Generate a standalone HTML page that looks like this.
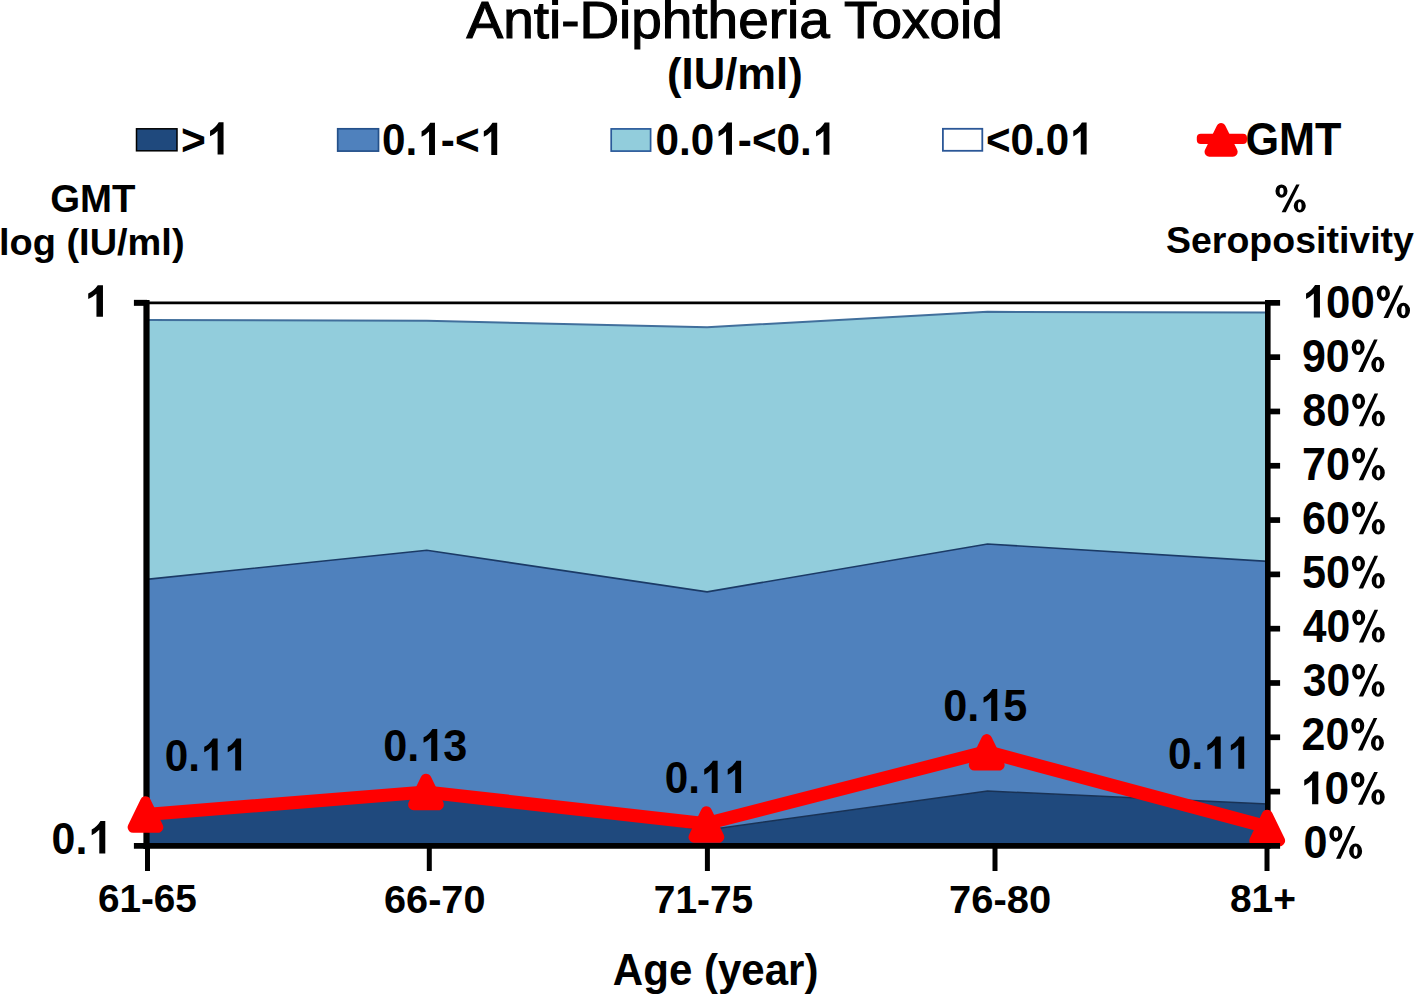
<!DOCTYPE html>
<html><head><meta charset="utf-8"><title>Anti-Diphtheria Toxoid</title>
<style>html,body{margin:0;padding:0;background:#fff;}svg{display:block;}</style>
</head><body>
<svg width="1418" height="996" viewBox="0 0 1418 996" font-family="'Liberation Sans', sans-serif" fill="#000">
<rect width="1418" height="996" fill="#FFFFFF"/>
<polygon points="146.5,302.9 426.8,302.9 707.1,302.9 987.5,302.9 1267.8,302.9 1267.8,312.6 987.5,311.8 707.1,327.2 426.8,320.8 146.5,320.1" fill="#FFFFFF"/>
<polygon points="146.5,320.1 426.8,320.8 707.1,327.2 987.5,311.8 1267.8,312.6 1267.8,561.4 987.5,544.0 707.1,591.9 426.8,550.3 146.5,579.4" fill="#92CDDC"/>
<polygon points="146.5,579.4 426.8,550.3 707.1,591.9 987.5,544.0 1267.8,561.4 1267.8,804.0 987.5,791.0 707.1,830.0 426.8,792.0 146.5,814.0" fill="#4F81BD"/>
<polygon points="146.5,814.0 426.8,792.0 707.1,830.0 987.5,791.0 1267.8,804.0 1267.8,845.9 987.5,845.9 707.1,845.9 426.8,845.9 146.5,845.9" fill="#1F497D"/>
<polyline points="146.5,320.1 426.8,320.8 707.1,327.2 987.5,311.8 1267.8,312.6" fill="none" stroke="#416F9C" stroke-width="2"/>
<polyline points="146.5,579.4 426.8,550.3 707.1,591.9 987.5,544.0 1267.8,561.4" fill="none" stroke="#1B3A66" stroke-width="1.6"/>
<polyline points="146.5,814.0 426.8,792.0 707.1,830.0 987.5,791.0 1267.8,804.0" fill="none" stroke="#193255" stroke-width="1.5"/>
<line x1="146.5" y1="302.8" x2="1267.8" y2="302.8" stroke="#000" stroke-width="2.8"/>
<line x1="146.5" y1="300" x2="146.5" y2="849" stroke="#000" stroke-width="6.2"/>
<line x1="1267.8" y1="300" x2="1267.8" y2="849" stroke="#000" stroke-width="5.6"/>
<line x1="133.9" y1="302.85" x2="147" y2="302.85" stroke="#000" stroke-width="6"/>
<line x1="1267" y1="302.85" x2="1280.1" y2="302.85" stroke="#000" stroke-width="5.7"/>
<line x1="1267" y1="357.16" x2="1280.1" y2="357.16" stroke="#000" stroke-width="5.7"/>
<line x1="1267" y1="411.46" x2="1280.1" y2="411.46" stroke="#000" stroke-width="5.7"/>
<line x1="1267" y1="465.76" x2="1280.1" y2="465.76" stroke="#000" stroke-width="5.7"/>
<line x1="1267" y1="520.07" x2="1280.1" y2="520.07" stroke="#000" stroke-width="5.7"/>
<line x1="1267" y1="574.38" x2="1280.1" y2="574.38" stroke="#000" stroke-width="5.7"/>
<line x1="1267" y1="628.68" x2="1280.1" y2="628.68" stroke="#000" stroke-width="5.7"/>
<line x1="1267" y1="682.98" x2="1280.1" y2="682.98" stroke="#000" stroke-width="5.7"/>
<line x1="1267" y1="737.29" x2="1280.1" y2="737.29" stroke="#000" stroke-width="5.7"/>
<line x1="1267" y1="791.60" x2="1280.1" y2="791.60" stroke="#000" stroke-width="5.7"/>
<line x1="147.5" y1="846" x2="147.5" y2="871" stroke="#000" stroke-width="5"/>
<line x1="429.3" y1="846" x2="429.3" y2="871" stroke="#000" stroke-width="5"/>
<line x1="707.4" y1="846" x2="707.4" y2="871" stroke="#000" stroke-width="5"/>
<line x1="995.0" y1="846" x2="995.0" y2="871" stroke="#000" stroke-width="5"/>
<line x1="1267.0" y1="846" x2="1267.0" y2="871" stroke="#000" stroke-width="5"/>
<polyline points="146.0,814.5 426.0,792.0 706.4,823.7 986.7,751.7 1268.0,827.2" fill="none" stroke="#FF0000" stroke-width="13.2" stroke-linejoin="round"/>
<polygon points="145.50,801.80 157.90,827.30 133.10,827.30" fill="#FF0000" stroke="#FF0000" stroke-width="11" stroke-linejoin="round"/>
<polygon points="426.00,779.20 438.40,804.70 413.60,804.70" fill="#FF0000" stroke="#FF0000" stroke-width="11" stroke-linejoin="round"/>
<polygon points="706.40,811.70 718.80,837.20 694.00,837.20" fill="#FF0000" stroke="#FF0000" stroke-width="11" stroke-linejoin="round"/>
<polygon points="986.70,739.60 999.10,765.10 974.30,765.10" fill="#FF0000" stroke="#FF0000" stroke-width="11" stroke-linejoin="round"/>
<polygon points="1267.20,815.20 1279.60,840.70 1254.80,840.70" fill="#FF0000" stroke="#FF0000" stroke-width="11" stroke-linejoin="round"/>
<line x1="133.9" y1="845.9" x2="1280.1" y2="845.9" stroke="#000" stroke-width="5.8"/>
<rect x="136.5" y="128.8" width="40.5" height="22" fill="#1F497D" stroke="#000" stroke-width="1.5"/>
<rect x="337.7" y="128.8" width="40.8" height="22.3" fill="#4F81BD" stroke="#24508A" stroke-width="1.7"/>
<rect x="611.2" y="128.9" width="39.4" height="22.2" fill="#92CDDC" stroke="#2A5A9A" stroke-width="1.7"/>
<rect x="942.9" y="128.8" width="39.4" height="22.0" fill="#FFFFFF" stroke="#2B5797" stroke-width="1.8"/>
<rect x="1196.8" y="133.8" width="50.2" height="10.1" rx="4" fill="#FF0000"/>
<polygon points="1221.10,127.75 1232.90,151.95 1209.30,151.95" fill="#FF0000" stroke="#FF0000" stroke-width="9.5" stroke-linejoin="round"/>
<g transform="translate(466.50,38.40) scale(1.0604,1)"><text x="0" y="0" font-size="51.80" font-weight="400" stroke="#000" stroke-width="1.1">Anti-Diphtheria Toxoid</text></g>
<g transform="translate(667.05,89.40) scale(0.9756,1)"><text x="0" y="0" font-size="44.70" font-weight="700">(IU/ml)</text></g>
<g transform="translate(180.91,154.50) scale(0.9465,1)"><text x="0.00" y="0" font-size="45.00" font-weight="700">&gt;</text><path transform="translate(26.28,0) scale(45.000,-45.000)" d="M0.417,0 L0.277,0 L0.277,0.525 Q0.2,0.45 0.100,0.405 L0.100,0.530 Q0.22,0.585 0.305,0.716 L0.417,0.716 Z"/></g>
<g transform="translate(382.12,155.00) scale(0.9388,1)"><text x="0.00" y="0" font-size="45.00" font-weight="700">0.</text><path transform="translate(37.53,0) scale(45.000,-45.000)" d="M0.417,0 L0.277,0 L0.277,0.525 Q0.2,0.45 0.100,0.405 L0.100,0.530 Q0.22,0.585 0.305,0.716 L0.417,0.716 Z"/><text x="62.56" y="0" font-size="45.00" font-weight="700">-&lt;</text><path transform="translate(103.82,0) scale(45.000,-45.000)" d="M0.417,0 L0.277,0 L0.277,0.525 Q0.2,0.45 0.100,0.405 L0.100,0.530 Q0.22,0.585 0.305,0.716 L0.417,0.716 Z"/></g>
<g transform="translate(655.62,154.80) scale(0.9388,1)"><text x="0.00" y="0" font-size="45.00" font-weight="700">0.0</text><path transform="translate(62.56,0) scale(45.000,-45.000)" d="M0.417,0 L0.277,0 L0.277,0.525 Q0.2,0.45 0.100,0.405 L0.100,0.530 Q0.22,0.585 0.305,0.716 L0.417,0.716 Z"/><text x="87.58" y="0" font-size="45.00" font-weight="700">-&lt;0.</text><path transform="translate(166.38,0) scale(45.000,-45.000)" d="M0.417,0 L0.277,0 L0.277,0.525 Q0.2,0.45 0.100,0.405 L0.100,0.530 Q0.22,0.585 0.305,0.716 L0.417,0.716 Z"/></g>
<g transform="translate(986.03,154.60) scale(0.9349,1)"><text x="0.00" y="0" font-size="45.00" font-weight="700">&lt;0.0</text><path transform="translate(88.84,0) scale(45.000,-45.000)" d="M0.417,0 L0.277,0 L0.277,0.525 Q0.2,0.45 0.100,0.405 L0.100,0.530 Q0.22,0.585 0.305,0.716 L0.417,0.716 Z"/></g>
<g transform="translate(1245.40,155.00) scale(0.9495,1)"><text x="0" y="0" font-size="45.50" font-weight="700">GMT</text></g>
<g transform="translate(50.20,212.00) scale(1.0024,1)"><text x="0" y="0" font-size="38.30" font-weight="700">GMT</text></g>
<g transform="translate(-0.98,254.70) scale(1.0261,1)"><text x="0" y="0" font-size="37.00" font-weight="700">log (IU/ml)</text></g>
<g transform="translate(1273.65,211.90) scale(1.0241,1)"><path transform="translate(0.00,0) scale(39.000,-39.000)" fill-rule="evenodd" d="M0.0450,0.5345 A0.1510,0.1705 0 1,0 0.3470,0.5345 A0.1510,0.1705 0 1,0 0.0450,0.5345 Z M0.1480,0.5304 A0.0510,0.0882 0 1,0 0.2500,0.5304 A0.0510,0.0882 0 1,0 0.1480,0.5304 Z M0.5030,0.1553 A0.1510,0.1703 0 1,0 0.8050,0.1553 A0.1510,0.1703 0 1,0 0.5030,0.1553 Z M0.6070,0.1531 A0.0465,0.1033 0 1,0 0.7000,0.1531 A0.0465,0.1033 0 1,0 0.6070,0.1531 Z M0.566,0.705 L0.650,0.705 L0.304,-0.012 L0.200,-0.012 Z"/></g>
<g transform="translate(1166.01,253.40) scale(0.9948,1)"><text x="0" y="0" font-size="37.70" font-weight="700">Seropositivity</text></g>
<g transform="translate(83.57,316.80) scale(1.0571,1)"><path transform="translate(0.00,0) scale(44.000,-44.000)" d="M0.417,0 L0.277,0 L0.277,0.525 Q0.2,0.45 0.100,0.405 L0.100,0.530 Q0.22,0.585 0.305,0.716 L0.417,0.716 Z"/></g>
<g transform="translate(51.61,853.50) scale(0.9473,1)"><text x="0.00" y="0" font-size="45.30" font-weight="700">0.</text><path transform="translate(37.78,0) scale(45.300,-45.300)" d="M0.417,0 L0.277,0 L0.277,0.525 Q0.2,0.45 0.100,0.405 L0.100,0.530 Q0.22,0.585 0.305,0.716 L0.417,0.716 Z"/></g>
<g transform="translate(1301.69,317.50) scale(0.9626,1)"><path transform="translate(0.00,0) scale(45.500,-45.500)" d="M0.417,0 L0.277,0 L0.277,0.525 Q0.2,0.45 0.100,0.405 L0.100,0.530 Q0.22,0.585 0.305,0.716 L0.417,0.716 Z"/><text x="25.30" y="0" font-size="45.50" font-weight="700">00</text><path transform="translate(75.91,0) scale(45.500,-45.500)" fill-rule="evenodd" d="M0.0450,0.5345 A0.1510,0.1705 0 1,0 0.3470,0.5345 A0.1510,0.1705 0 1,0 0.0450,0.5345 Z M0.1480,0.5304 A0.0510,0.0882 0 1,0 0.2500,0.5304 A0.0510,0.0882 0 1,0 0.1480,0.5304 Z M0.5030,0.1553 A0.1510,0.1703 0 1,0 0.8050,0.1553 A0.1510,0.1703 0 1,0 0.5030,0.1553 Z M0.6070,0.1531 A0.0465,0.1033 0 1,0 0.7000,0.1531 A0.0465,0.1033 0 1,0 0.6070,0.1531 Z M0.566,0.705 L0.650,0.705 L0.304,-0.012 L0.200,-0.012 Z"/></g>
<g transform="translate(1301.91,371.57) scale(0.9447,1)"><text x="0.00" y="0" font-size="45.50" font-weight="700">90</text><path transform="translate(50.61,0) scale(45.500,-45.500)" fill-rule="evenodd" d="M0.0450,0.5345 A0.1510,0.1705 0 1,0 0.3470,0.5345 A0.1510,0.1705 0 1,0 0.0450,0.5345 Z M0.1480,0.5304 A0.0510,0.0882 0 1,0 0.2500,0.5304 A0.0510,0.0882 0 1,0 0.1480,0.5304 Z M0.5030,0.1553 A0.1510,0.1703 0 1,0 0.8050,0.1553 A0.1510,0.1703 0 1,0 0.5030,0.1553 Z M0.6070,0.1531 A0.0465,0.1033 0 1,0 0.7000,0.1531 A0.0465,0.1033 0 1,0 0.6070,0.1531 Z M0.566,0.705 L0.650,0.705 L0.304,-0.012 L0.200,-0.012 Z"/></g>
<g transform="translate(1302.35,425.64) scale(0.9453,1)"><text x="0.00" y="0" font-size="45.50" font-weight="700">80</text><path transform="translate(50.61,0) scale(45.500,-45.500)" fill-rule="evenodd" d="M0.0450,0.5345 A0.1510,0.1705 0 1,0 0.3470,0.5345 A0.1510,0.1705 0 1,0 0.0450,0.5345 Z M0.1480,0.5304 A0.0510,0.0882 0 1,0 0.2500,0.5304 A0.0510,0.0882 0 1,0 0.1480,0.5304 Z M0.5030,0.1553 A0.1510,0.1703 0 1,0 0.8050,0.1553 A0.1510,0.1703 0 1,0 0.5030,0.1553 Z M0.6070,0.1531 A0.0465,0.1033 0 1,0 0.7000,0.1531 A0.0465,0.1033 0 1,0 0.6070,0.1531 Z M0.566,0.705 L0.650,0.705 L0.304,-0.012 L0.200,-0.012 Z"/></g>
<g transform="translate(1302.10,479.71) scale(0.9482,1)"><text x="0.00" y="0" font-size="45.50" font-weight="700">70</text><path transform="translate(50.61,0) scale(45.500,-45.500)" fill-rule="evenodd" d="M0.0450,0.5345 A0.1510,0.1705 0 1,0 0.3470,0.5345 A0.1510,0.1705 0 1,0 0.0450,0.5345 Z M0.1480,0.5304 A0.0510,0.0882 0 1,0 0.2500,0.5304 A0.0510,0.0882 0 1,0 0.1480,0.5304 Z M0.5030,0.1553 A0.1510,0.1703 0 1,0 0.8050,0.1553 A0.1510,0.1703 0 1,0 0.5030,0.1553 Z M0.6070,0.1531 A0.0465,0.1033 0 1,0 0.7000,0.1531 A0.0465,0.1033 0 1,0 0.6070,0.1531 Z M0.566,0.705 L0.650,0.705 L0.304,-0.012 L0.200,-0.012 Z"/></g>
<g transform="translate(1302.10,533.78) scale(0.9482,1)"><text x="0.00" y="0" font-size="45.50" font-weight="700">60</text><path transform="translate(50.61,0) scale(45.500,-45.500)" fill-rule="evenodd" d="M0.0450,0.5345 A0.1510,0.1705 0 1,0 0.3470,0.5345 A0.1510,0.1705 0 1,0 0.0450,0.5345 Z M0.1480,0.5304 A0.0510,0.0882 0 1,0 0.2500,0.5304 A0.0510,0.0882 0 1,0 0.1480,0.5304 Z M0.5030,0.1553 A0.1510,0.1703 0 1,0 0.8050,0.1553 A0.1510,0.1703 0 1,0 0.5030,0.1553 Z M0.6070,0.1531 A0.0465,0.1033 0 1,0 0.7000,0.1531 A0.0465,0.1033 0 1,0 0.6070,0.1531 Z M0.566,0.705 L0.650,0.705 L0.304,-0.012 L0.200,-0.012 Z"/></g>
<g transform="translate(1301.90,587.85) scale(0.9494,1)"><text x="0.00" y="0" font-size="45.50" font-weight="700">50</text><path transform="translate(50.61,0) scale(45.500,-45.500)" fill-rule="evenodd" d="M0.0450,0.5345 A0.1510,0.1705 0 1,0 0.3470,0.5345 A0.1510,0.1705 0 1,0 0.0450,0.5345 Z M0.1480,0.5304 A0.0510,0.0882 0 1,0 0.2500,0.5304 A0.0510,0.0882 0 1,0 0.1480,0.5304 Z M0.5030,0.1553 A0.1510,0.1703 0 1,0 0.8050,0.1553 A0.1510,0.1703 0 1,0 0.5030,0.1553 Z M0.6070,0.1531 A0.0465,0.1033 0 1,0 0.7000,0.1531 A0.0465,0.1033 0 1,0 0.6070,0.1531 Z M0.566,0.705 L0.650,0.705 L0.304,-0.012 L0.200,-0.012 Z"/></g>
<g transform="translate(1302.86,641.92) scale(0.9384,1)"><text x="0.00" y="0" font-size="45.50" font-weight="700">40</text><path transform="translate(50.61,0) scale(45.500,-45.500)" fill-rule="evenodd" d="M0.0450,0.5345 A0.1510,0.1705 0 1,0 0.3470,0.5345 A0.1510,0.1705 0 1,0 0.0450,0.5345 Z M0.1480,0.5304 A0.0510,0.0882 0 1,0 0.2500,0.5304 A0.0510,0.0882 0 1,0 0.1480,0.5304 Z M0.5030,0.1553 A0.1510,0.1703 0 1,0 0.8050,0.1553 A0.1510,0.1703 0 1,0 0.5030,0.1553 Z M0.6070,0.1531 A0.0465,0.1033 0 1,0 0.7000,0.1531 A0.0465,0.1033 0 1,0 0.6070,0.1531 Z M0.566,0.705 L0.650,0.705 L0.304,-0.012 L0.200,-0.012 Z"/></g>
<g transform="translate(1302.76,695.99) scale(0.9372,1)"><text x="0.00" y="0" font-size="45.50" font-weight="700">30</text><path transform="translate(50.61,0) scale(45.500,-45.500)" fill-rule="evenodd" d="M0.0450,0.5345 A0.1510,0.1705 0 1,0 0.3470,0.5345 A0.1510,0.1705 0 1,0 0.0450,0.5345 Z M0.1480,0.5304 A0.0510,0.0882 0 1,0 0.2500,0.5304 A0.0510,0.0882 0 1,0 0.1480,0.5304 Z M0.5030,0.1553 A0.1510,0.1703 0 1,0 0.8050,0.1553 A0.1510,0.1703 0 1,0 0.5030,0.1553 Z M0.6070,0.1531 A0.0465,0.1033 0 1,0 0.7000,0.1531 A0.0465,0.1033 0 1,0 0.6070,0.1531 Z M0.566,0.705 L0.650,0.705 L0.304,-0.012 L0.200,-0.012 Z"/></g>
<g transform="translate(1301.61,750.06) scale(0.9435,1)"><text x="0.00" y="0" font-size="45.50" font-weight="700">20</text><path transform="translate(50.61,0) scale(45.500,-45.500)" fill-rule="evenodd" d="M0.0450,0.5345 A0.1510,0.1705 0 1,0 0.3470,0.5345 A0.1510,0.1705 0 1,0 0.0450,0.5345 Z M0.1480,0.5304 A0.0510,0.0882 0 1,0 0.2500,0.5304 A0.0510,0.0882 0 1,0 0.1480,0.5304 Z M0.5030,0.1553 A0.1510,0.1703 0 1,0 0.8050,0.1553 A0.1510,0.1703 0 1,0 0.5030,0.1553 Z M0.6070,0.1531 A0.0465,0.1033 0 1,0 0.7000,0.1531 A0.0465,0.1033 0 1,0 0.6070,0.1531 Z M0.566,0.705 L0.650,0.705 L0.304,-0.012 L0.200,-0.012 Z"/></g>
<g transform="translate(1299.83,804.13) scale(0.9732,1)"><path transform="translate(0.00,0) scale(45.500,-45.500)" d="M0.417,0 L0.277,0 L0.277,0.525 Q0.2,0.45 0.100,0.405 L0.100,0.530 Q0.22,0.585 0.305,0.716 L0.417,0.716 Z"/><text x="25.30" y="0" font-size="45.50" font-weight="700">0</text><path transform="translate(50.61,0) scale(45.500,-45.500)" fill-rule="evenodd" d="M0.0450,0.5345 A0.1510,0.1705 0 1,0 0.3470,0.5345 A0.1510,0.1705 0 1,0 0.0450,0.5345 Z M0.1480,0.5304 A0.0510,0.0882 0 1,0 0.2500,0.5304 A0.0510,0.0882 0 1,0 0.1480,0.5304 Z M0.5030,0.1553 A0.1510,0.1703 0 1,0 0.8050,0.1553 A0.1510,0.1703 0 1,0 0.5030,0.1553 Z M0.6070,0.1531 A0.0465,0.1033 0 1,0 0.7000,0.1531 A0.0465,0.1033 0 1,0 0.6070,0.1531 Z M0.566,0.705 L0.650,0.705 L0.304,-0.012 L0.200,-0.012 Z"/></g>
<g transform="translate(1303.40,858.20) scale(0.9483,1)"><text x="0.00" y="0" font-size="45.50" font-weight="700">0</text><path transform="translate(25.30,0) scale(45.500,-45.500)" fill-rule="evenodd" d="M0.0450,0.5345 A0.1510,0.1705 0 1,0 0.3470,0.5345 A0.1510,0.1705 0 1,0 0.0450,0.5345 Z M0.1480,0.5304 A0.0510,0.0882 0 1,0 0.2500,0.5304 A0.0510,0.0882 0 1,0 0.1480,0.5304 Z M0.5030,0.1553 A0.1510,0.1703 0 1,0 0.8050,0.1553 A0.1510,0.1703 0 1,0 0.5030,0.1553 Z M0.6070,0.1531 A0.0465,0.1033 0 1,0 0.7000,0.1531 A0.0465,0.1033 0 1,0 0.6070,0.1531 Z M0.566,0.705 L0.650,0.705 L0.304,-0.012 L0.200,-0.012 Z"/></g>
<g transform="translate(164.82,770.60) scale(0.9380,1)"><text x="0.00" y="0" font-size="45.00" font-weight="700">0.</text><path transform="translate(37.53,0) scale(45.000,-45.000)" d="M0.417,0 L0.277,0 L0.277,0.525 Q0.2,0.45 0.100,0.405 L0.100,0.530 Q0.22,0.585 0.305,0.716 L0.417,0.716 Z"/><path transform="translate(62.56,0) scale(45.000,-45.000)" d="M0.417,0 L0.277,0 L0.277,0.525 Q0.2,0.45 0.100,0.405 L0.100,0.530 Q0.22,0.585 0.305,0.716 L0.417,0.716 Z"/></g>
<g transform="translate(383.18,761.10) scale(0.9607,1)"><text x="0.00" y="0" font-size="45.00" font-weight="700">0.</text><path transform="translate(37.53,0) scale(45.000,-45.000)" d="M0.417,0 L0.277,0 L0.277,0.525 Q0.2,0.45 0.100,0.405 L0.100,0.530 Q0.22,0.585 0.305,0.716 L0.417,0.716 Z"/><text x="62.56" y="0" font-size="45.00" font-weight="700">3</text></g>
<g transform="translate(664.82,793.00) scale(0.9380,1)"><text x="0.00" y="0" font-size="45.00" font-weight="700">0.</text><path transform="translate(37.53,0) scale(45.000,-45.000)" d="M0.417,0 L0.277,0 L0.277,0.525 Q0.2,0.45 0.100,0.405 L0.100,0.530 Q0.22,0.585 0.305,0.716 L0.417,0.716 Z"/><path transform="translate(62.56,0) scale(45.000,-45.000)" d="M0.417,0 L0.277,0 L0.277,0.525 Q0.2,0.45 0.100,0.405 L0.100,0.530 Q0.22,0.585 0.305,0.716 L0.417,0.716 Z"/></g>
<g transform="translate(943.18,721.10) scale(0.9607,1)"><text x="0.00" y="0" font-size="45.00" font-weight="700">0.</text><path transform="translate(37.53,0) scale(45.000,-45.000)" d="M0.417,0 L0.277,0 L0.277,0.525 Q0.2,0.45 0.100,0.405 L0.100,0.530 Q0.22,0.585 0.305,0.716 L0.417,0.716 Z"/><text x="62.56" y="0" font-size="45.00" font-weight="700">5</text></g>
<g transform="translate(1167.92,768.80) scale(0.9380,1)"><text x="0.00" y="0" font-size="45.00" font-weight="700">0.</text><path transform="translate(37.53,0) scale(45.000,-45.000)" d="M0.417,0 L0.277,0 L0.277,0.525 Q0.2,0.45 0.100,0.405 L0.100,0.530 Q0.22,0.585 0.305,0.716 L0.417,0.716 Z"/><path transform="translate(62.56,0) scale(45.000,-45.000)" d="M0.417,0 L0.277,0 L0.277,0.525 Q0.2,0.45 0.100,0.405 L0.100,0.530 Q0.22,0.585 0.305,0.716 L0.417,0.716 Z"/></g>
<g transform="translate(97.90,912.20) scale(1.0031,1)"><text x="0" y="0" font-size="38.60" font-weight="700">61-65</text></g>
<g transform="translate(384.07,912.60) scale(1.0271,1)"><text x="0" y="0" font-size="38.60" font-weight="700">66-70</text></g>
<g transform="translate(653.79,912.60) scale(1.0073,1)"><text x="0" y="0" font-size="38.60" font-weight="700">71-75</text></g>
<g transform="translate(949.03,912.60) scale(1.0337,1)"><text x="0" y="0" font-size="38.60" font-weight="700">76-80</text></g>
<g transform="translate(1229.89,912.10) scale(1.0095,1)"><text x="0" y="0" font-size="38.60" font-weight="700">81+</text></g>
<g transform="translate(612.87,985.40) scale(0.9341,1)"><text x="0" y="0" font-size="45.00" font-weight="700">Age (year)</text></g>
</svg>
</body></html>
